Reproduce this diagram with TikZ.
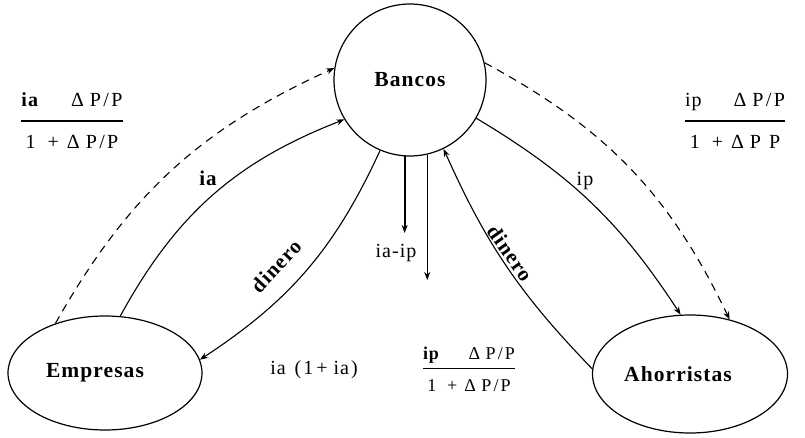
\documentclass[tikz,border=0pt]{standalone}
\usepackage{fontspec}
\setmainfont[LetterSpace=5]{Liberation Serif}
\usetikzlibrary{arrows.meta,shapes.geometric}
\setlength{\arrayrulewidth}{1.7pt}
% fraction: numerator, denominator, gap above the bar, height below it
\newcommand{\fracbox}[4]{\begin{tabular}{@{}c@{}}#1\\[#3]\hline\rule{0pt}{#4}#2\end{tabular}}
\newcommand{\sep}{\hspace{0.12em}/\hspace{0.12em}}
\begin{document}
\begin{tikzpicture}[x=1pt,y=1pt,
  agent/.style={draw,line width=1.2pt,ellipse,minimum width=194pt,minimum height=114pt,font=\fontsize{21.5}{26}\selectfont\bfseries,inner sep=0pt},
  bank/.style={draw,line width=1.2pt,circle,minimum size=152pt,font=\fontsize{21.5}{26}\selectfont\bfseries,inner sep=0pt},
  flow/.style={line width=1.1pt,-{Stealth[length=8pt,width=6pt]}},
  dflow/.style={flow,dash pattern=on 8pt off 6pt},
  lbl/.style={font=\fontsize{20}{24}\selectfont,inner sep=1pt},
  blbl/.style={lbl,font=\fontsize{21}{24}\selectfont\bfseries},
  frac/.style={font=\fontsize{20}{24}\selectfont,inner sep=0pt},
  sfrac/.style={font=\fontsize{18}{22}\selectfont,inner sep=0pt}]
\useasboundingbox (0,0) rectangle (805,437);

% the three actors (names sit a little left of centre in the ovals)
\node[bank] (banc) at (410,357) {Bancos};
\node[agent] (emp) at (105,64) {Empresas\hspace*{20pt}};
\node[agent,minimum width=195pt,minimum height=118pt] (aho) at (690,63) {Ahorristas\hspace*{24pt}};

% flows between firms and banks
\draw[dflow] (emp.135) to[bend left=18] (banc.171);
\draw[flow] (emp.75) to[bend left=20] (banc.211);
\node[blbl] (lia) at (208,259) {ia};
\draw[flow] (banc.247) to[bend left=16] (emp.8);
\node[blbl,rotate=47] (ldl) at (276,171) {dinero};

% margin flows out of the bank
\coordinate (t1) at (405,204);
\coordinate (t2) at (428,157);
\draw[line width=1.8pt,-{Stealth[length=8pt,width=6pt]}] (banc.266) -- (banc.266 |- t1);
\draw[line width=0.9pt,-{Stealth[length=8pt,width=6pt]}] (banc.283) -- (banc.283 |- t2);
\node[lbl] (liaip) at (396,184) {ia-ip};

% flows between savers and banks
\draw[flow] (aho.177) to[bend left=10] (banc.296);
\node[blbl,rotate=-55] (ldr) at (510,184) {dinero};
\draw[flow] (banc.330) to[bend left=13] (aho.99);
\node[lbl] (lip) at (585,256) {ip};
\draw[dflow] (banc.13) to[bend left=18] (aho.54);

% real rates
\node[frac] (fl) at (72,314) {\fracbox{\textbf{ia}\hspace{1.6em}Δ\hspace{0.3em}P\sep P}{1\hspace{0.6em}+\hspace{0.4em}Δ\hspace{0.3em}P\sep P}{6pt}{27pt}};
\node[frac] (fr) at (735,314) {\fracbox{ip\hspace{1.6em}Δ\hspace{0.3em}P\sep P}{1\hspace{0.6em}+\hspace{0.4em}Δ\hspace{0.3em}P\hspace{0.4em}P}{6pt}{27pt}};
\node[sfrac] (fb) at (469,66) {\fracbox{\textbf{ip}\hspace{1.6em}Δ\hspace{0.3em}P\sep P}{1\hspace{0.6em}+\hspace{0.4em}Δ\hspace{0.3em}P\sep P}{1.5pt}{22pt}};
\node[lbl] (lint) at (314,67) {ia\hspace{0.15em} (\hspace{0.1em}1\hspace{0.15em}+\hspace{0.3em}ia\hspace{0.1em})};
\end{tikzpicture}
\end{document}
